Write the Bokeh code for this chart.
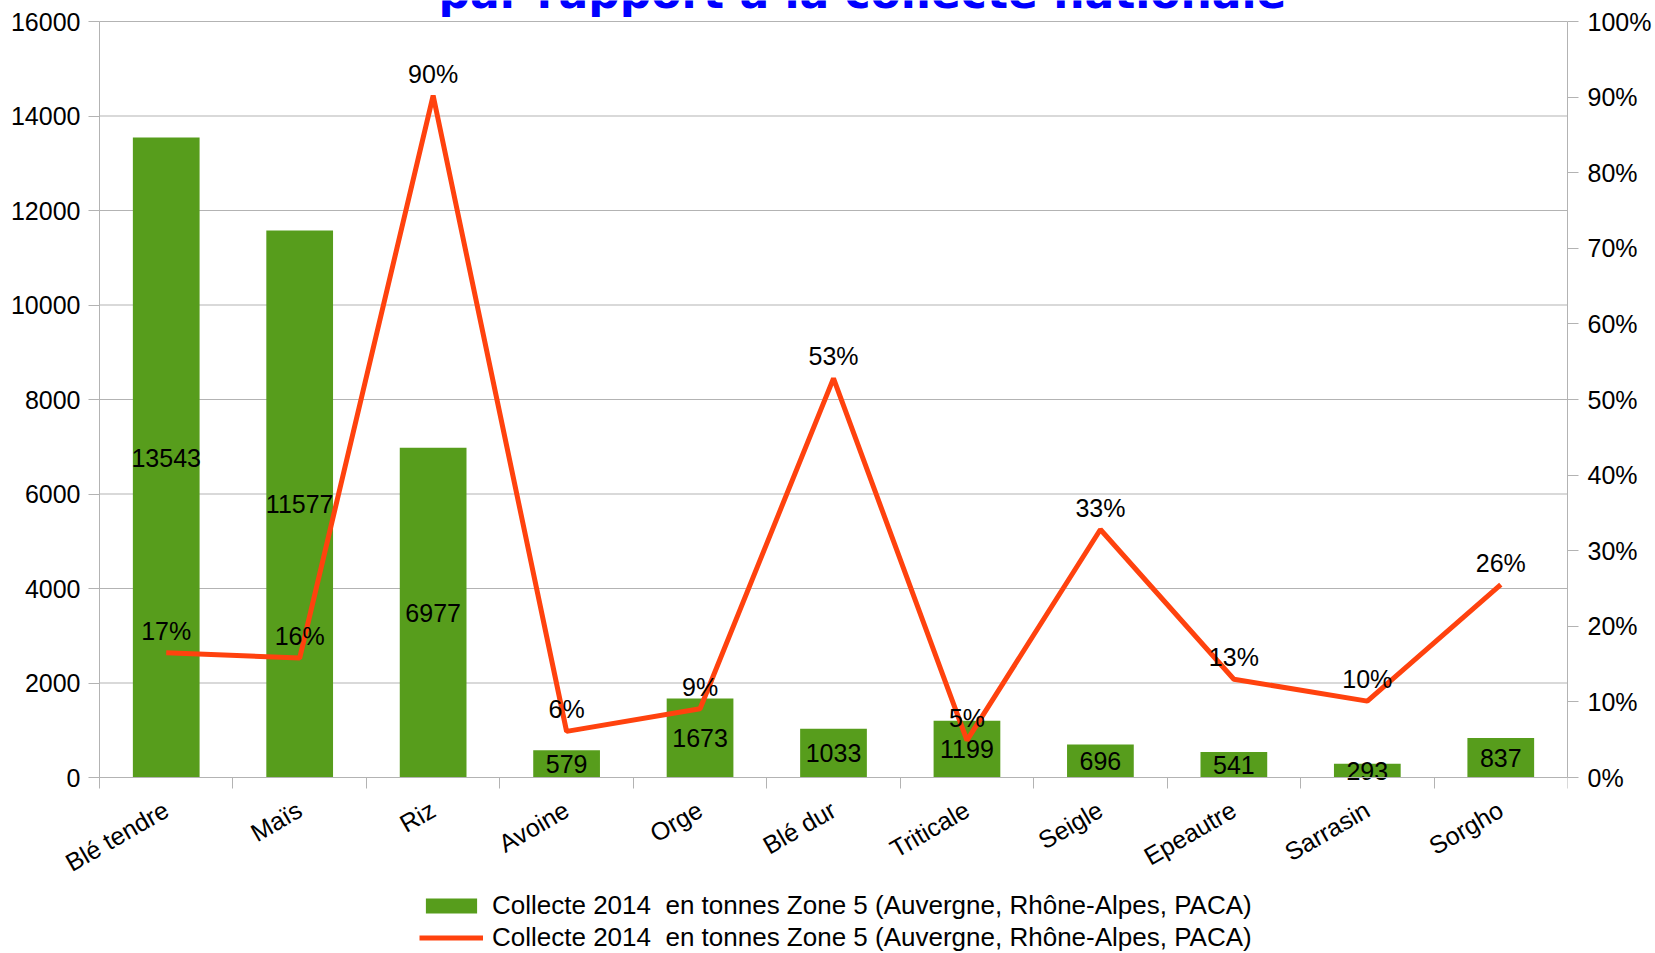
import math
from bokeh.plotting import figure
from bokeh.models import (Range1d, LinearAxis, FixedTicker, NumeralTickFormatter,
                          ColumnDataSource, Label, Legend, LegendItem)
from bokeh.core.properties import value
from bokeh.embed import file_html
from bokeh.resources import INLINE

# ---------------- data ----------------
categories = ["Blé tendre", "Maïs", "Riz", "Avoine", "Orge", "Blé dur",
              "Triticale", "Seigle", "Epeautre", "Sarrasin", "Sorgho"]
tonnes = [13543, 11577, 6977, 579, 1673, 1033, 1199, 696, 541, 293, 837]
share = [0.165, 0.158, 0.902, 0.061, 0.091, 0.528, 0.049, 0.328, 0.130, 0.101, 0.255]
share_labels = ["17%", "16%", "90%", "6%", "9%", "53%", "5%", "33%", "13%", "10%", "26%"]
left_ticks = [0, 2000, 4000, 6000, 8000, 10000, 12000, 14000, 16000]
right_ticks = [0.0, 0.1, 0.2, 0.3, 0.4, 0.5, 0.6, 0.7, 0.8, 0.9, 1.0]
series_name = "Collecte 2014  en tonnes Zone 5 (Auvergne, Rhône-Alpes, PACA)"
title_text = "par rapport à la collecte nationale"

# ---------------- layout / styles ----------------
W, H = 1655, 953
PLOT_LEFT, PLOT_RIGHT = 99, 1567      # pixel columns of the two value axes
PLOT_TOP, PLOT_BOTTOM = 21, 777       # pixel rows of the top and zero gridlines
FONT = "Liberation Sans"
GREY = "#b3b3b3"
BAR = "#579d1c"
LINE = "#ff420e"
FS = "25px"

n = len(categories)
xs = [i + 0.5 for i in range(n)]
bounds = [float(i) for i in range(n + 1)]

# the frame spans the canvas from its left and top edges to its bottom edge;
# ranges are stretched so that the plotting area falls where it should
span_px = PLOT_BOTTOM - PLOT_TOP
below_frac = (H - PLOT_BOTTOM) / span_px
above_frac = PLOT_TOP / span_px
left_frac = PLOT_LEFT / (PLOT_RIGHT - PLOT_LEFT)
lmax, rmax = left_ticks[-1], right_ticks[-1]

src = ColumnDataSource(dict(
    x=xs,
    tonnes=tonnes,
    mid=[t / 2 for t in tonnes],
    tonnes_str=[str(t) for t in tonnes],
    share=share,
    share_label=share_labels,
))
grid_src = ColumnDataSource(dict(y=left_ticks, x0=[0] * len(left_ticks),
                                 x1=[n] * len(left_ticks)))

p = figure(width=W, height=H, output_backend="svg", toolbar_location=None,
           x_range=Range1d(-n * left_frac, n),
           y_range=Range1d(-lmax * below_frac, lmax * (1 + above_frac)),
           min_border_left=0, min_border_right=W - PLOT_RIGHT,
           min_border_top=0, min_border_bottom=0)
p.extra_y_ranges = {"pct": Range1d(-rmax * below_frac, rmax * (1 + above_frac))}
p.outline_line_color = None
p.background_fill_color = "white"
p.border_fill_color = "white"

# horizontal gridlines (only across the plotting area)
p.segment(x0="x0", x1="x1", y0="y", y1="y", source=grid_src, line_color=GREY, line_width=1)

# bars
bars = p.vbar(x="x", top="tonnes", width=0.5, source=src, fill_color=BAR, line_color=None)
p.text(x="x", y="mid", text="tonnes_str", source=src, text_align="center",
       text_baseline="middle", text_font=value(FONT), text_font_size=FS, text_color="black")

# line
ln = p.line(x="x", y="share", source=src, y_range_name="pct", line_color=LINE, line_width=5)
p.text(x="x", y="share", text="share_label", source=src, y_range_name="pct",
       y_offset=-22, text_align="center", text_baseline="middle",
       text_font=value(FONT), text_font_size=FS, text_color="black")

# left axis, drawn at the left edge of the category area
ya = p.yaxis[0]
ya.fixed_location = 0
ya.ticker = FixedTicker(ticks=left_ticks)
ya.bounds = (left_ticks[0], lmax)
ya.axis_line_color = GREY
ya.major_tick_line_color = GREY
ya.major_tick_out = 11
ya.major_tick_in = 0
ya.minor_tick_line_color = None
ya.major_label_standoff = 8
ya.major_label_text_font = FONT
ya.major_label_text_font_size = FS
ya.major_label_text_color = "black"

# right axis
ra = LinearAxis(y_range_name="pct", ticker=FixedTicker(ticks=right_ticks),
                formatter=NumeralTickFormatter(format="0%"), bounds=(right_ticks[0], rmax))
ra.axis_line_color = GREY
ra.major_tick_line_color = GREY
ra.major_tick_out = 11
ra.major_tick_in = 0
ra.minor_tick_line_color = None
ra.major_label_standoff = 9
ra.major_label_text_font = FONT
ra.major_label_text_font_size = FS
ra.major_label_text_color = "black"
p.add_layout(ra, "right")

# bottom (category) axis, drawn on the zero line
xa = p.xaxis[0]
xa.fixed_location = 0
xa.bounds = (0, n)
xa.ticker = FixedTicker(ticks=xs, minor_ticks=bounds)
xa.major_label_overrides = {x: c for x, c in zip(xs, categories)}
xa.major_tick_line_color = None
xa.major_tick_out = 11
xa.minor_tick_line_color = GREY
xa.minor_tick_out = 11
xa.minor_tick_in = 0
xa.axis_line_color = GREY
xa.major_label_orientation = math.pi / 6
xa.major_label_standoff = 19
xa.major_label_text_font = FONT
xa.major_label_text_font_size = FS
xa.major_label_text_color = "black"

# grids handled above
p.xgrid.visible = False
p.ygrid.visible = False

# title (partly cut off at the top)
p.add_layout(Label(x=862, y=H + 8, x_units="screen", y_units="screen",
                   text=title_text, text_font="DejaVu Sans", text_font_style="bold",
                   text_font_size="44px", text_color="#0000ff", text_align="center",
                   text_baseline="alphabetic"))

# legend
legend = Legend(items=[LegendItem(label=series_name, renderers=[bars]),
                       LegendItem(label=series_name, renderers=[ln])],
                location=(PLOT_LEFT + 320, 0), orientation="vertical",
                glyph_width=64, glyph_height=19, label_height=20, spacing=1,
                padding=0, margin=0, label_standoff=9,
                label_text_font=FONT, label_text_font_size="26px", label_text_color="black",
                border_line_color=None, background_fill_alpha=0)
p.add_layout(legend, "center")

open("out.html", "w").write(file_html(p, INLINE))
